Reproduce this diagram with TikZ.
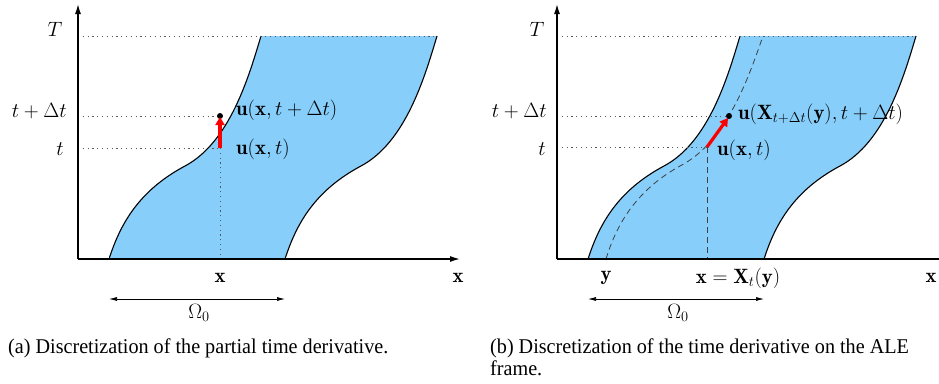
\documentclass[tikz,border=0pt]{standalone}
\usepackage{fontspec}
\newfontfamily\capfont[FakeStretch=0.96]{Liberation Serif}
\usetikzlibrary{arrows.meta}
\definecolor{bandblue}{RGB}{135,206,250}
\definecolor{arrowred}{RGB}{250,0,0}
\tikzset{
  axisline/.style={line width=1.4pt,-{Latex[length=10pt,width=6pt]}},
  guideline/.style={dash pattern=on 1.2pt off 3.6pt,line width=1pt,black!65},
  guidedash/.style={dash pattern=on 6pt off 4pt,line width=0.8pt,black!75},
  boundline/.style={line width=1.1pt,black},
  redarrow/.style={line width=3.2pt,arrowred,-{Triangle[length=8pt,width=9pt]}},
  spanarrow/.style={line width=0.7pt,{Latex[length=8pt,width=4pt]}-{Latex[length=8pt,width=4pt]}},
  lbl/.style={inner sep=0pt,font=\huge},
  captext/.style={inner sep=0pt,anchor=north west,font=\capfont\fontsize{21}{21.5}\selectfont,align=left},
  ptdot/.style={circle,fill=black,inner sep=0pt,minimum size=6pt}
}
\begin{document}
\begin{tikzpicture}[x=1pt,y=-1pt]
\useasboundingbox (0,0) rectangle (939,383);
% ---------- panel (a)
\begin{scope}
\fill[bandblue] (109,259) .. controls (120,225) and (138,191) .. (185,166) .. controls (230,142) and (249,76) .. (261,36) -- (437,36) .. controls (425,76) and (406,142) .. (361,166) .. controls (314,191) and (296,225) .. (285,259) -- cycle;
\draw[boundline] (109,259) .. controls (120,225) and (138,191) .. (185,166) .. controls (230,142) and (249,76) .. (261,36);
\draw[boundline] (437,36) .. controls (425,76) and (406,142) .. (361,166) .. controls (314,191) and (296,225) .. (285,259);
\coordinate (aO) at (78,259);
\coordinate (aY) at (78,4);
\coordinate (aX) at (460,259);
\coordinate (aT) at (78,36);
\coordinate (aTe) at (437,36);
\coordinate (aD) at (78,116);
\coordinate (aS) at (78,148);
\node[ptdot] (adot) at (220,116) {};
\coordinate (astart) at (220,148);
\coordinate (abase) at (220,259);
\draw[guideline] (aT) -- (aTe);
\draw[guideline] (aD) -- (adot);
\draw[guideline] (aS) -- (astart);
\draw[guideline] (astart) -- (abase);
\draw[axisline] (aO) -- (aY);
\draw[axisline] (aO) -- (aX);
\draw[redarrow] (astart) -- (220,117);
\node[lbl] (aTl) at (55,29) {$T$};
\node[lbl,anchor=east] (aDl) at (67,111) {$t+\Delta t$};
\node[lbl] (aSl) at (60,149) {$t$};
\node[lbl,anchor=west] (au2) at (236,110) {$\mathbf{u}(\mathbf{x},t+\Delta t)$};
\node[lbl,anchor=west] (au1) at (236,149) {$\mathbf{u}(\mathbf{x},t)$};
\node[lbl] (axl) at (220,278) {$\mathbf{x}$};
\node[lbl] (aaxl) at (458,278) {$\mathbf{x}$};
\coordinate (aom1) at (109,299);
\coordinate (aom2) at (285,299);
\draw[spanarrow] (aom1) -- (aom2);
\node[lbl] (aom) at (199,313) {$\Omega_0$};
\end{scope}
% ---------- panel (b)
\begin{scope}[xshift=479pt]
\fill[bandblue] (109,259) .. controls (120,225) and (138,191) .. (185,166) .. controls (230,142) and (249,76) .. (261,36) -- (437,36) .. controls (425,76) and (406,142) .. (361,166) .. controls (314,191) and (296,225) .. (285,259) -- cycle;
\draw[boundline] (109,259) .. controls (120,225) and (138,191) .. (185,166) .. controls (230,142) and (249,76) .. (261,36);
\draw[boundline] (437,36) .. controls (425,76) and (406,142) .. (361,166) .. controls (314,191) and (296,225) .. (285,259);
\draw[guidedash] (127,259) .. controls (137,226) and (156,191) .. (201,166) .. controls (248,142) and (270,76) .. (284,36);
\coordinate (bO) at (78,259);
\coordinate (bY) at (78,4);
\coordinate (bX) at (470,259);
\coordinate (bT) at (78,36);
\coordinate (bTe) at (437,36);
\coordinate (bD) at (78,116);
\coordinate (bS) at (78,147);
\node[ptdot] (bdot) at (250,116) {};
\coordinate (bstart) at (228,147);
\coordinate (bbase) at (228,259);
\draw[guideline] (bT) -- (bTe);
\draw[guideline] (bD) -- (bdot);
\draw[guideline] (bS) -- (bstart);
\draw[guidedash] (bstart) -- (bbase);
\draw[axisline] (bO) -- (bY);
\draw[axisline] (bO) -- (bX);
\draw[redarrow] (bstart) -- (249,118);
\node[lbl] (bTl) at (58,29) {$T$};
\node[lbl,anchor=east] (bDl) at (68,111) {$t+\Delta t$};
\node[lbl] (bSl) at (63,149) {$t$};
\node[lbl,anchor=west] (bu2) at (259,114) {$\mathbf{u}(\mathbf{X}_{t+\Delta t}(\mathbf{y}),t+\Delta t)$};
\node[lbl,anchor=west] (bu1) at (238,150) {$\mathbf{u}(\mathbf{x},t)$};
\node[lbl] (byl) at (127,278) {$\mathbf{y}$};
\node[lbl] (bxl) at (259,278) {$\mathbf{x}=\mathbf{X}_t(\mathbf{y})$};
\node[lbl] (baxl) at (452,278) {$\mathbf{x}$};
\coordinate (bom1) at (109,299);
\coordinate (bom2) at (285,299);
\draw[spanarrow] (bom1) -- (bom2);
\node[lbl] (bom) at (199,313) {$\Omega_0$};
\end{scope}
% ---------- captions
\node[captext] (capa) at (8,339) {(a) Discretization of the partial time derivative.};
\node[captext] (capb) at (490,339) {(b) Discretization of the time derivative on the ALE\\frame.};
\end{tikzpicture}
\end{document}
